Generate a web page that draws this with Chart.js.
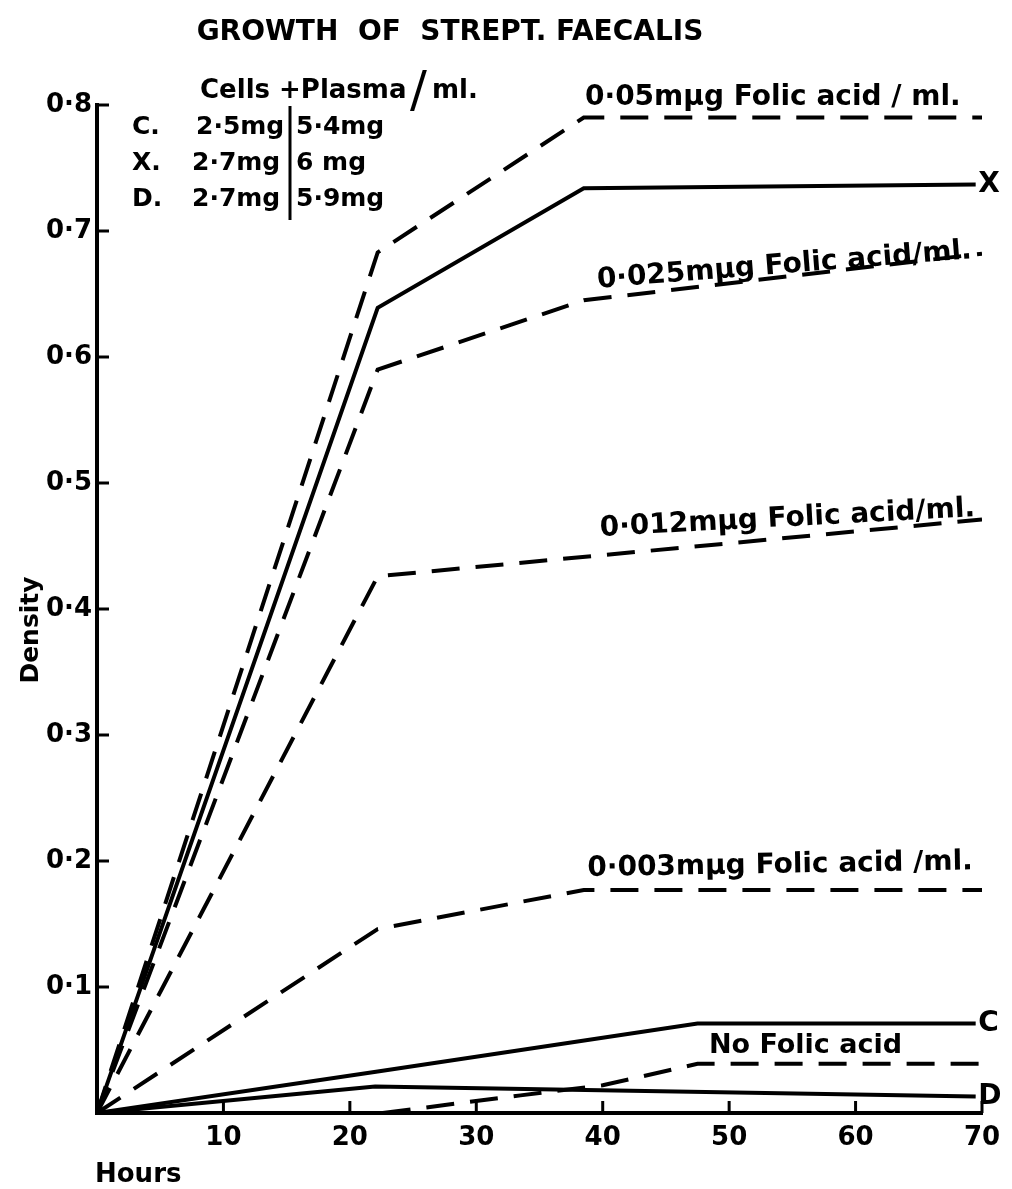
<!DOCTYPE html>
<html lang="en">
<head>
  <meta charset="UTF-8">
  <title>Growth of Strept. faecalis</title>
  <script src="https://cdn.jsdelivr.net/npm/chart.js"></script>
  <style>
    body { margin: 0; background: #fff; }
    #wrap { width: 1012px; height: 1189px; }
  </style>
</head>
<body>
  <div id="wrap"><canvas id="chart" width="1012" height="1189"></canvas></div>

  <script>
    // hours on the x axis, density on the y axis
    const hours05 = [0, 22.2, 38.5, 70];
    const folic05 = [0, 0.683, 0.790, 0.790];

    const hoursX = [0, 22.2, 38.5, 69.5];
    const cellsX = [0, 0.639, 0.734, 0.737];

    const hours025 = [0, 22.2, 38.5, 70];
    const folic025 = [0, 0.590, 0.645, 0.682];

    const hours012 = [0, 22.2, 70];
    const folic012 = [0, 0.426, 0.471];

    const hours003 = [0, 22.2, 38.5, 70];
    const folic003 = [0, 0.146, 0.177, 0.177];

    const hoursC = [0, 22.2, 47.5, 69.5];
    const cellsC = [0, 0.033, 0.071, 0.071];

    const hoursNone = [22.6, 33.5, 40, 47.5, 70];
    const folicNone = [0, 0.014, 0.022, 0.039, 0.039];

    const hoursD = [0, 22.0, 69.5];
    const cellsD = [0, 0.021, 0.013];

    const xTicks = [10, 20, 30, 40, 50, 60, 70];
    const yTicks = [0.1, 0.2, 0.3, 0.4, 0.5, 0.6, 0.7, 0.8];

    const FONT = '"DejaVu Sans", sans-serif';

    function pts(xs, ys) {
      return xs.map((x, i) => ({ x: x, y: ys[i] }));
    }

    function series(xs, ys, dashed) {
      return {
        data: pts(xs, ys),
        borderColor: '#000',
        borderWidth: 4,
        borderDash: dashed ? [28, 16] : [],
        pointRadius: 0,
        tension: 0,
        fill: false
      };
    }

    const annotations = {
      id: 'annotations',
      afterDraw(chart) {
        const ctx = chart.ctx;
        const xs = chart.scales.x, ys = chart.scales.y;
        const px = h => xs.getPixelForValue(h);
        const py = d => ys.getPixelForValue(d);

        function text(str, x, y, size, opts) {
          opts = opts || {};
          ctx.save();
          ctx.translate(x, y);
          if (opts.rot) ctx.rotate(opts.rot * Math.PI / 180);
          ctx.font = (opts.weight || 'bold') + ' ' + size + 'px ' + FONT;
          ctx.fillStyle = '#000';
          ctx.textAlign = opts.align || 'left';
          ctx.textBaseline = opts.base || 'alphabetic';
          ctx.fillText(str, 0, 0);
          ctx.restore();
        }

        // tick marks pointing into the plot
        ctx.save();
        ctx.strokeStyle = '#000';
        ctx.lineWidth = 3;
        yTicks.forEach(v => {
          ctx.beginPath();
          ctx.moveTo(px(0), py(v));
          ctx.lineTo(px(0) + 12, py(v));
          ctx.stroke();
        });
        xTicks.forEach(v => {
          ctx.beginPath();
          ctx.moveTo(px(v), py(0));
          ctx.lineTo(px(v), py(0) - 12);
          ctx.stroke();
        });
        ctx.restore();

        // title and axis names
        text('GROWTH  OF  STREPT. FAECALIS', 450, 40, 28, { align: 'center' });
        text('Hours', 95, 1182, 26);
        text('Density', 38, 630, 25, { rot: -90, align: 'center' });

        // key
        text('Cells +Plasma', 200, 98, 26);
        text('/', 410, 106, 50, { weight: 'normal' });
        text('ml.', 432, 98, 26);
        text('C.', 132, 134, 25);
        text('X.', 132, 170, 25);
        text('D.', 132, 206, 25);
        text('2·5mg', 196, 134, 25);
        text('2·7mg', 192, 170, 25);
        text('2·7mg', 192, 206, 25);
        text('5·4mg', 296, 134, 25);
        text('6 mg', 296, 170, 25);
        text('5·9mg', 296, 206, 25);
        ctx.save();
        ctx.strokeStyle = '#000';
        ctx.lineWidth = 3;
        ctx.beginPath();
        ctx.moveTo(290, 106);
        ctx.lineTo(290, 220);
        ctx.stroke();
        ctx.restore();

        // curve labels
        text('0·05mμg Folic acid / ml.', px(38.6), py(0.800), 28);
        text('0·025mμg Folic acid/ml.', px(39.6), py(0.655), 28, { rot: -4.5 });
        text('0·012mμg Folic acid/ml.', px(39.8), py(0.458), 28, { rot: -3 });
        text('0·003mμg Folic acid /ml.', px(38.8), py(0.188), 28, { rot: -1 });
        text('No Folic acid', px(48.4), py(0.048), 27);
        text('X', px(69.7), py(0.737), 28, { base: 'middle' });
        text('C', px(69.7), py(0.071), 28, { base: 'middle' });
        text('D', px(69.7), py(0.013), 28, { base: 'middle' });
      }
    };

    const ctx = document.getElementById('chart').getContext('2d');
    window.myChart = new Chart(ctx, {
      type: 'line',
      data: {
        datasets: [
          series(hours05, folic05, true),
          series(hoursX, cellsX, false),
          series(hours025, folic025, true),
          series(hours012, folic012, true),
          series(hours003, folic003, true),
          series(hoursC, cellsC, false),
          series(hoursNone, folicNone, true),
          series(hoursD, cellsD, false)
        ]
      },
      options: {
        responsive: false,
        animation: false,
        layout: { padding: { top: 105, right: 30, left: 0, bottom: 0 } },
        plugins: { legend: { display: false }, tooltip: { enabled: false } },
        scales: {
          x: {
            type: 'linear',
            min: 0,
            max: 70,
            afterFit: s => { s.height = 76; },
            afterBuildTicks: s => { s.ticks = [0].concat(xTicks).map(v => ({ value: v })); },
            grid: { display: false, drawTicks: false },
            border: { display: true, color: '#000', width: 4 },
            ticks: {
              padding: 10,
              color: '#000',
              font: { family: FONT, size: 26, weight: 'bold' },
              callback: v => (v === 0 ? '' : String(v))
            }
          },
          y: {
            min: 0,
            max: 0.8,
            afterFit: s => { s.width = 97; },
            afterBuildTicks: s => { s.ticks = [0].concat(yTicks).map(v => ({ value: v })); },
            grid: { display: false, drawTicks: false },
            border: { display: true, color: '#000', width: 4 },
            ticks: {
              padding: 5,
              color: '#000',
              font: { family: FONT, size: 26, weight: 'bold' },
              callback: v => (v === 0 ? '' : '0·' + Math.round(v * 10))
            }
          }
        }
      },
      plugins: [annotations]
    });
  </script>
</body>
</html>
